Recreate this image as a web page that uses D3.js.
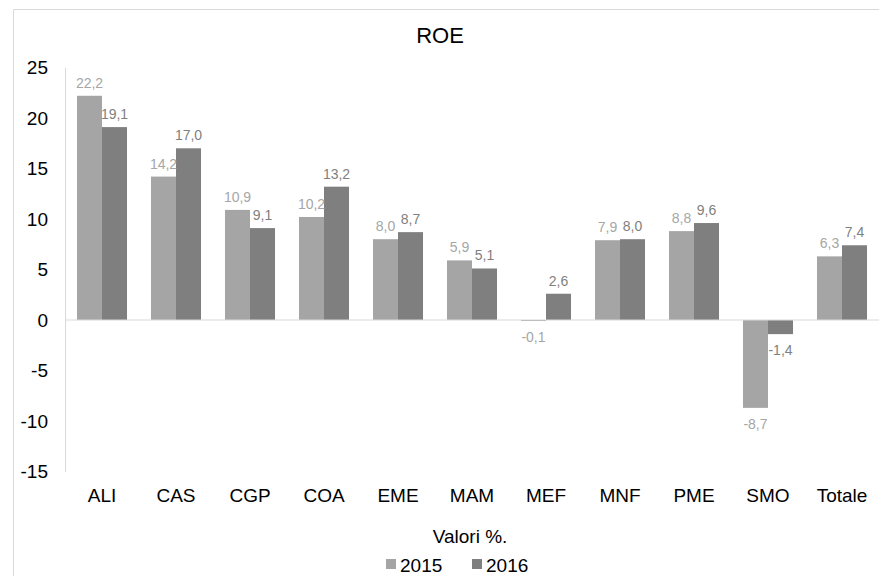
<!DOCTYPE html>
<html>
<head>
<meta charset="utf-8">
<script src="https://cdn.jsdelivr.net/npm/d3@7"></script>
<style>
  body { margin: 0; background: #fff; }
  svg { font-family: "Liberation Sans", Arial, sans-serif; }
</style>
</head>
<body>
<svg id="chart"></svg>
<script>
const categories = ["ALI", "CAS", "CGP", "COA", "EME", "MAM", "MEF", "MNF", "PME", "SMO", "Totale"]
const series = ["2015", "2016"]
const values2015 = [22.2, 14.2, 10.9, 10.2, 8.0, 5.9, -0.1, 7.9, 8.8, -8.7, 6.3]
const values2016 = [19.1, 17.0, 9.1, 13.2, 8.7, 5.1, 2.6, 8.0, 9.6, -1.4, 7.4]
const yTicks = [-15, -10, -5, 0, 5, 10, 15, 20, 25]

const width = 879
const height = 576
const barColors = { "2015": "#a5a5a5", "2016": "#7f7f7f" }
const labelColors = { "2015": "#a6a6a6", "2016": "#7f7f7f" }

const svg = d3.select('#chart')
    .attr("width", width)
    .attr("height", height)

const data = categories.map((c, i) => ({ cat: c, vals: [
    { key: "2015", value: values2015[i] },
    { key: "2016", value: values2016[i] }
] }))

const it = d3.formatLocale({ decimal: ",", thousands: ".", grouping: [3], currency: ["", "€"], minus: "-" })
const fmt = it.format(".1f")
const fmtTick = it.format("d")

// cornice
svg.append("line").attr("x1", 13.5).attr("x2", 13.5).attr("y1", 9.5).attr("y2", height)
    .attr("stroke", "#d9d9d9")
svg.append("line").attr("x1", 13.5).attr("x2", width).attr("y1", 9.5).attr("y2", 9.5)
    .attr("stroke", "#d9d9d9")

const x0 = d3.scaleBand()
    .domain(categories)
    .range([65, 879])
    .paddingInner(0.324)
    .paddingOuter(0.162)

const x1 = d3.scaleBand()
    .domain(series)
    .range([0, x0.bandwidth()])

const y = d3.scaleLinear()
    .domain([-15, 25])
    .range([471.5, 67.5])

// titolo
svg.append("text")
    .attr("x", 440).attr("y", 43)
    .attr("text-anchor", "middle")
    .attr("font-size", 22)
    .attr("fill", "#000")
    .text("ROE")

// asse y
const yAxis = svg.append("g")
    .attr("transform", "translate(65,0)")
    .call(d3.axisLeft(y).tickValues(yTicks).tickSize(0).tickPadding(17).tickFormat(fmtTick))
yAxis.select(".domain").attr("stroke", "#d9d9d9")
yAxis.selectAll("text").attr("font-size", 19).attr("fill", "#000")
    .attr("font-family", "Liberation Sans, Arial, sans-serif")

// etichette categorie
const xAxis = svg.append("g")
    .attr("transform", "translate(0,471.5)")
    .call(d3.axisBottom(x0).tickSize(0).tickPadding(17))
xAxis.select(".domain").remove()
xAxis.selectAll("text").attr("font-size", 19).attr("fill", "#000")
    .attr("font-family", "Liberation Sans, Arial, sans-serif")

// barre
const groups = svg.selectAll(".grp")
    .data(data)
    .enter()
    .append("g")
    .attr("class", "grp")
    .attr("transform", d => `translate(${x0(d.cat)},0)`)

groups.selectAll("rect")
    .data(d => d.vals)
    .enter()
    .append("rect")
    .attr("x", d => x1(d.key))
    .attr("width", x1.bandwidth())
    .attr("y", d => y(Math.max(0, d.value)))
    .attr("height", d => Math.abs(y(d.value) - y(0)))
    .attr("fill", d => barColors[d.key])

// linea dello zero
svg.append("line")
    .attr("x1", 65).attr("x2", 879)
    .attr("y1", y(0)).attr("y2", y(0))
    .attr("stroke", "#d9d9d9")

// etichette valori
groups.selectAll(".lbl")
    .data(d => d.vals)
    .enter()
    .append("text")
    .attr("class", "lbl")
    .attr("x", d => x1(d.key) + x1.bandwidth() / 2)
    .attr("y", d => d.value >= 0 ? y(d.value) - 8 : y(d.value) + 21)
    .attr("text-anchor", "middle")
    .attr("font-size", 14)
    .attr("fill", d => labelColors[d.key])
    .text(d => fmt(d.value))

// titolo asse
svg.append("text")
    .attr("x", 470).attr("y", 543)
    .attr("text-anchor", "middle")
    .attr("font-size", 19)
    .attr("fill", "#000")
    .text("Valori %.")

// legenda
const legendX = [386, 472]
const legend = svg.selectAll(".leg")
    .data(series)
    .enter()
    .append("g")
    .attr("class", "leg")
    .attr("transform", (d, i) => `translate(${legendX[i]},0)`)

legend.append("rect")
    .attr("x", 0).attr("y", 559)
    .attr("width", 10).attr("height", 10)
    .attr("fill", d => barColors[d])

legend.append("text")
    .attr("x", 14).attr("y", 572)
    .attr("font-size", 19)
    .attr("fill", "#000")
    .text(d => d)
</script>
</body>
</html>
